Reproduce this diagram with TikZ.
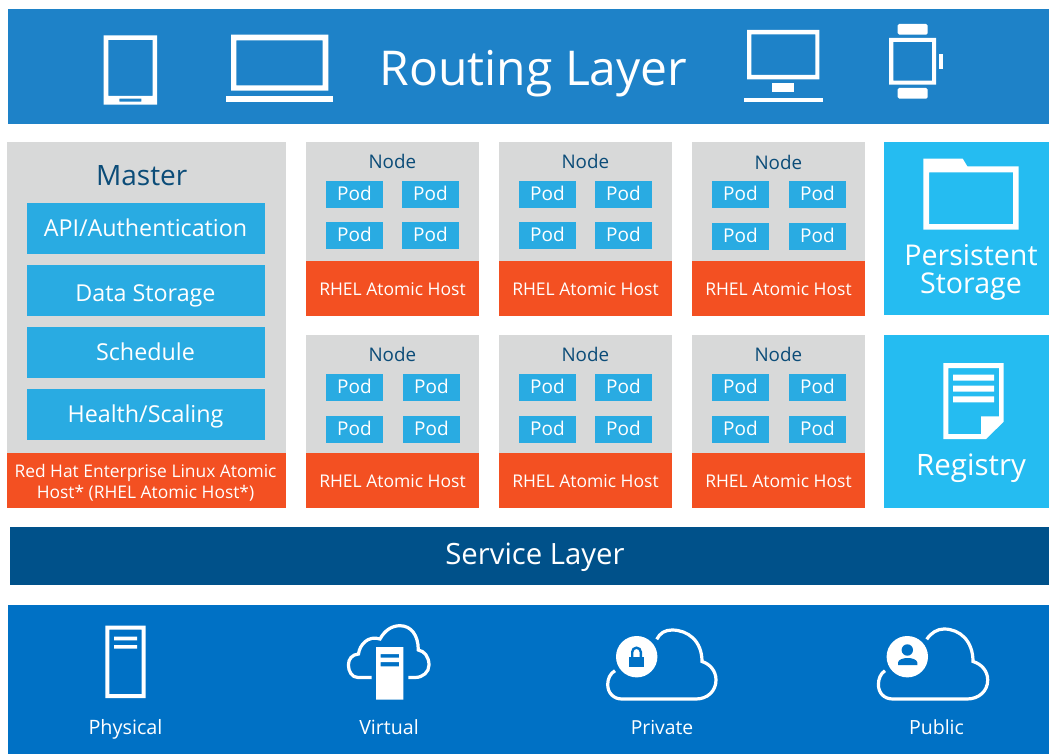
\documentclass[tikz,border=0pt]{standalone}
\usepackage{fontspec}
\setmainfont{Open Sans}
\definecolor{routebg}{HTML}{1E82C8}
\definecolor{panelgrey}{HTML}{D8D9D9}
\definecolor{boxblue}{HTML}{29ABE2}
\definecolor{hostorange}{HTML}{F35022}
\definecolor{sidecyan}{HTML}{25BCF1}
\definecolor{servicebg}{HTML}{00518A}
\definecolor{basebg}{HTML}{0071C5}
\definecolor{ink}{HTML}{0B4C78}
\tikzset{
  x=1pt,y=-1pt,
  fs/.style={font=\fontsize{#1}{#1}\selectfont},
  fsl/.style 2 args={font=\fontsize{#1}{#2}\selectfont},
  lab/.style={text=white,inner sep=0pt,align=center,anchor=base},
  darklab/.style={text=ink,inner sep=0pt,align=center,anchor=base},
  icon/.style={fill=white,draw=none,even odd rule},
  cloudline/.style={draw=white,line width=3.2pt,fill=none},
}
% worker panel: name, left x, top y, second pod column dx, lower pod row dy, Node baseline dy, grey height
\newcommand{\workerpanel}[7]{%
  \fill[panelgrey] (#2,#3) rectangle ++(173,#7);
  \fill[hostorange] (#2,#3+#7) rectangle (#2+173,#3+#7+55);
  \node[darklab,fs=18.8] (#1n) at (#2+86.3,#3+#6) {Node};
  \foreach \dx/\dy/\k in {20/39/a,#4/39/b,20/#5/c,#4/#5/d}{
    \fill[boxblue] (#2+\dx,#3+\dy) rectangle ++(57,27);
    \node[lab,fs=19] (#1\k) at (#2+\dx+28.5,#3+\dy+19.9) {Pod};
  }
  \node[lab,fs=17.5] (#1h) at (#2+86.5,#3+#7+34) {RHEL Atomic Host};
}
\begin{document}
\begin{tikzpicture}
\useasboundingbox (0,0) rectangle (1049,754);
\fill[white] (0,0) rectangle (1049,754);
% routing layer
\fill[routebg] (8,9) rectangle (1049,124);
\node[lab,fs=48] (routing) at (533.5,85.8) {Routing Layer};
\fill[icon] (103.7,35.3) rectangle (157,104.7) (108.3,40) rectangle (152.7,96) (119.3,98.7) rectangle (141.3,101.7);
\fill[icon] (231,34.7) rectangle (328.3,90.7) (236.3,40.3) rectangle (322.7,85.3);
\fill[icon] (226.3,96.3) rectangle (332.7,102);
\fill[icon] (747,30) rectangle (819.3,79.3) (751.3,34.3) rectangle (815.3,75);
\fill[icon] (772.3,83.3) rectangle (794,92);
\fill[icon] (744,98) rectangle (822.7,102.3);
\fill[icon] (889,38) rectangle (936,84.7) (893.3,42) rectangle (932,80.7);
\fill[icon,rounded corners=1.5pt] (897.7,24) rectangle (927.7,34.7);
\fill[icon,rounded corners=1.5pt] (897.7,88) rectangle (927.7,98.7);
\fill[icon] (939,54) rectangle (943.3,68.7);
% master
\fill[panelgrey] (7,142) rectangle (286,453);
\fill[hostorange] (7,453) rectangle (286,508);
\node[darklab,fs=28] (master) at (141.7,185.5) {Master};
\foreach \yy/\bl/\nm/\txt in {203/236.6/api/API\slash Authentication,265/301/data/Data Storage,327/360.3/sched/Schedule,389/422.5/health/Health\slash Scaling}{
  \fill[boxblue] (27,\yy) rectangle (265,\yy+51);
  \node[lab,fs=23.3] (\nm) at (145.5,\bl) {\txt};
}
\node[lab,fsl={17.4}{20.6}] (mhost) at (145.5,498.3) {Red Hat Enterprise Linux Atomic\\Host* (RHEL Atomic Host*)};
% workers
\workerpanel{wa}{306}{142}{96}{80}{26.3}{119}
\workerpanel{wb}{499}{142}{96}{80}{26.3}{119}
\workerpanel{wc}{692}{142}{97}{81}{27.3}{119}
\workerpanel{wd}{306}{335}{97}{81}{26}{118}
\workerpanel{we}{499}{335}{96}{81}{26}{118}
\workerpanel{wf}{692}{335}{97}{81}{26}{118}
% side panels
\fill[sidecyan] (884,142) rectangle (1049,315);
\fill[sidecyan] (884,335) rectangle (1049,508);
\fill[icon] (923.3,158.7) -- (962.7,158.7) -- (967.3,166.3) -- (1018.7,166.3) -- (1018.7,229.7) -- (923.3,229.7) -- cycle (929,172.3) rectangle (1013,224);
\node[lab,fsl={28.6}{28}] (persist) at (971,293.4) {Persistent\\Storage};
\fill[icon] (943.3,363) -- (1003.7,363) -- (1003.7,421.7) -- (986,439) -- (943.3,439) -- cycle
  (948.3,368) -- (999,368) -- (999,416.3) -- (981,416.3) -- (981,434) -- (948.3,434) -- cycle;
\fill[icon] (953,374.7) rectangle (994,380.7) (953,385.7) rectangle (994,391.7) (953,396.3) rectangle (994,402.3);
\node[lab,fs=29.5] (registry) at (971,475) {Registry};
% service layer
\fill[servicebg] (10,527) rectangle (1049,585);
\node[lab,fs=29.3] (service) at (535,564.2) {Service Layer};
% base
\fill[basebg] (8,605) rectangle (1049,754);
\fill[icon] (105.3,625.7) rectangle (145.7,698) (109.3,629.7) rectangle (141.7,694);
\fill[icon] (114,636.7) rectangle (137,640.3) (114,645) rectangle (137,648.7);
\node[lab,fs=19.8] (physical) at (125.5,734) {Physical};
% virtual cloud
\draw[cloudline] (371.7,677.5) -- (358,677.5) .. controls (352,677.5) and (348.4,671.5) .. (348.4,665) .. controls (348.4,659) and (352,654.5) .. (358.5,654) .. controls (359.5,645) and (368,635) .. (380,639) .. controls (385,630) and (392,625.7) .. (400,625.7) .. controls (411,625.7) and (418.3,635) .. (418.3,650) .. controls (424.5,651) and (429,657) .. (429,665) .. controls (429,672) and (423,677.5) .. (415,677.5) -- (408.3,677.5);
\fill[icon] (376,647) rectangle (403.3,699.7) (380.7,654) rectangle (399,657.7) (380.7,662) rectangle (399,666.3);
\node[lab,fs=19.6] (virtual) at (389,734) {Virtual};
% private cloud
\draw[cloudline] (615,670.7) .. controls (610,673.5) and (607.7,679) .. (607.7,684.5) .. controls (607.7,693) and (613.5,699) .. (622,699) -- (696,699) .. controls (707.5,699) and (716,691) .. (716,680) .. controls (716,671) and (710,664) .. (702,661.5) .. controls (702,641) and (688,630) .. (672,630) .. controls (665,630) and (660,633) .. (656.7,639.3);
\fill[white] (636.7,656.7) circle (20.7);
\fill[basebg] (629,656.7) rectangle (644,667.3);
\draw[basebg,line width=2.4pt] (632.2,657.5) -- (632.2,652) arc (180:360:4.3) -- (640.8,657.5);
\node[lab,fs=19.3] (private) at (662,734) {Private};
% public cloud
\draw[cloudline] (885,670.7) .. controls (880.5,673.5) and (878.4,679) .. (878.4,684.5) .. controls (878.4,693) and (884,699) .. (893,699) -- (967,699) .. controls (979,699) and (987.7,691) .. (987.7,680) .. controls (987.7,671) and (981.5,664) .. (973,661.5) .. controls (973,641) and (960,629) .. (944,629) .. controls (937,629) and (931,633) .. (926.7,639.3);
\fill[white] (907.3,656.7) circle (20.7);
\fill[basebg] (907.3,650) circle (5.7);
\fill[basebg] (898,665) -- (898,662.5) .. controls (899,656.5) and (916.3,656.5) .. (917.3,662.5) -- (917.3,665) -- cycle;
\node[lab,fs=19.5] (public) at (936.5,734) {Public};
\end{tikzpicture}
\end{document}
